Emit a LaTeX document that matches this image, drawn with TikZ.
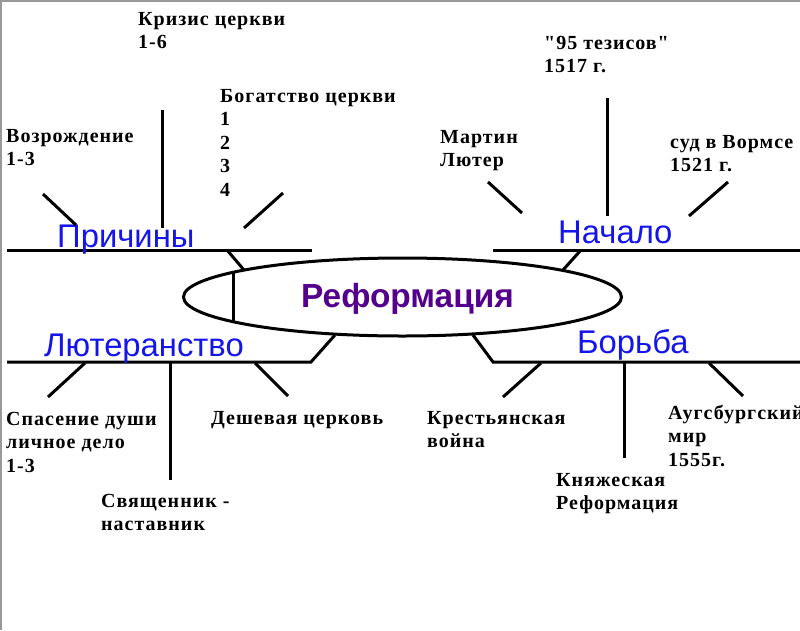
\documentclass[tikz,border=0pt]{standalone}
\usepackage{fontspec}
\usetikzlibrary{shapes.geometric}
\newfontfamily\lblfont[LetterSpace=5]{Liberation Serif}
\newfontfamily\headfont{Liberation Sans}
\definecolor{headblue}{RGB}{20,20,235}
\definecolor{titlepurple}{RGB}{85,0,140}
\newcommand\mlines[1]{\vtop{\baselineskip=23.6pt\lineskip=0pt\lineskiplimit=0pt\halign{##\hfil\cr#1\crcr}}}
\tikzset{
  bone/.style={line width=3pt, black},
  rib/.style={line width=3pt, black},
  lbl/.style={anchor=base west, inner sep=0pt, font=\lblfont\bfseries\fontsize{20}{23.6}\selectfont},
  head/.style={anchor=base west, inner sep=0pt, text=headblue, font=\headfont\fontsize{32.8}{36}\selectfont},
}
\begin{document}
\begin{tikzpicture}[x=1pt,y=-1pt]
\useasboundingbox (0,0) rectangle (800,630);
\draw[gray!80, line width=2pt] (1,630) coordinate (fl) -- (1,1) coordinate (ftl) -- (800,1) coordinate (fr);
% central ellipse
\node (ell) [draw, line width=3pt, ellipse, minimum width=438pt, minimum height=78pt, inner sep=0pt] at (402.5,297) {};
\node (title) [anchor=base, inner sep=0pt, text=titlepurple, font=\headfont\bfseries\fontsize{33.4}{36}\selectfont] at (407.5,307) {Реформация};
\coordinate (chT) at (233,272);
\coordinate (chB) at (233,321);
\draw[bone] (chT) -- (chB);
% --- Причины ---
\coordinate (pL) at (7,250); \coordinate (pR) at (312,250);
\draw[bone] (pL) -- (pR);
\coordinate (pC1) at (227,250); \coordinate (pC2) at (244,270);
\draw[bone] (pC1) -- (pC2);
\node[head] (prichiny) at (57,247) {Причины};
\coordinate (a1) at (43,194); \coordinate (a2) at (76,225);
\draw[rib] (a1) -- (a2);
\coordinate (b1) at (162,110); \coordinate (b2) at (162,228);
\draw[rib] (b1) -- (b2);
\coordinate (c1) at (283,193); \coordinate (c2) at (244,228);
\draw[rib] (c1) -- (c2);
\node[lbl] (vozr) at (6,142) {\mlines{Возрождение\cr 1-3}};
\node[lbl] (kriz) at (138,25) {\mlines{Кризис церкви\cr 1-6}};
\node[lbl] (bog) at (220,102) {\mlines{Богатство церкви\cr 1\cr 2\cr 3\cr 4}};
% --- Начало ---
\coordinate (nL) at (493,250); \coordinate (nR) at (800,250);
\draw[bone] (nL) -- (nR);
\coordinate (nC1) at (581,250); \coordinate (nC2) at (563,270);
\draw[bone] (nC1) -- (nC2);
\node[head] (nachalo) at (558,243) {Начало};
\coordinate (d1) at (488,182); \coordinate (d2) at (522,213);
\draw[rib] (d1) -- (d2);
\coordinate (e1) at (607,98); \coordinate (e2) at (607,216);
\draw[rib] (e1) -- (e2);
\coordinate (f1) at (728,182); \coordinate (f2) at (689,216);
\draw[rib] (f1) -- (f2);
\node[lbl] (luther) at (440,143) {\mlines{Мартин\cr Лютер}};
\node[lbl] (tez) at (544,49) {\mlines{"95 тезисов"\cr 1517 г.}};
\node[lbl] (sud) at (670,148) {\mlines{суд в Вормсе\cr 1521 г.}};
% --- Лютеранство ---
\coordinate (lL) at (7,362); \coordinate (lR) at (311,362);
\coordinate (lC) at (335,335);
\draw[bone, line join=miter] (lL) -- (lR) -- (lC);
\node[head] (lut) at (44,356) {Лютеранство};
\coordinate (g1) at (85,363); \coordinate (g2) at (48,397);
\draw[rib] (g1) -- (g2);
\coordinate (h1) at (170,362); \coordinate (h2) at (170,480);
\draw[rib] (h1) -- (h2);
\coordinate (i1) at (255,363); \coordinate (i2) at (288,396);
\draw[rib] (i1) -- (i2);
\node[lbl] (spas) at (6,425) {\mlines{Спасение души\cr личное дело\cr 1-3}};
\node[lbl] (svyasch) at (101,507) {\mlines{Священник -\cr наставник}};
\node[lbl] (desh) at (211,424) {Дешевая церковь};
% --- Борьба ---
\coordinate (zL) at (493,362); \coordinate (zR) at (800,362);
\coordinate (zC) at (473,335);
\draw[bone, line join=miter] (zC) -- (zL) -- (zR);
\node[head] (borba) at (577,353) {Борьба};
\coordinate (j1) at (541,363); \coordinate (j2) at (503,397);
\draw[rib] (j1) -- (j2);
\coordinate (k1) at (624,362); \coordinate (k2) at (624,458);
\draw[rib] (k1) -- (k2);
\coordinate (m1) at (709,363); \coordinate (m2) at (743,396);
\draw[rib] (m1) -- (m2);
\node[lbl] (krest) at (427,424) {\mlines{Крестьянская\cr война}};
\node[lbl] (kny) at (556,486) {\mlines{Княжеская\cr Реформация}};
\node[lbl] (augs) at (668,419) {\mlines{Аугсбургский\cr мир\cr 1555г.}};
\end{tikzpicture}
\end{document}
